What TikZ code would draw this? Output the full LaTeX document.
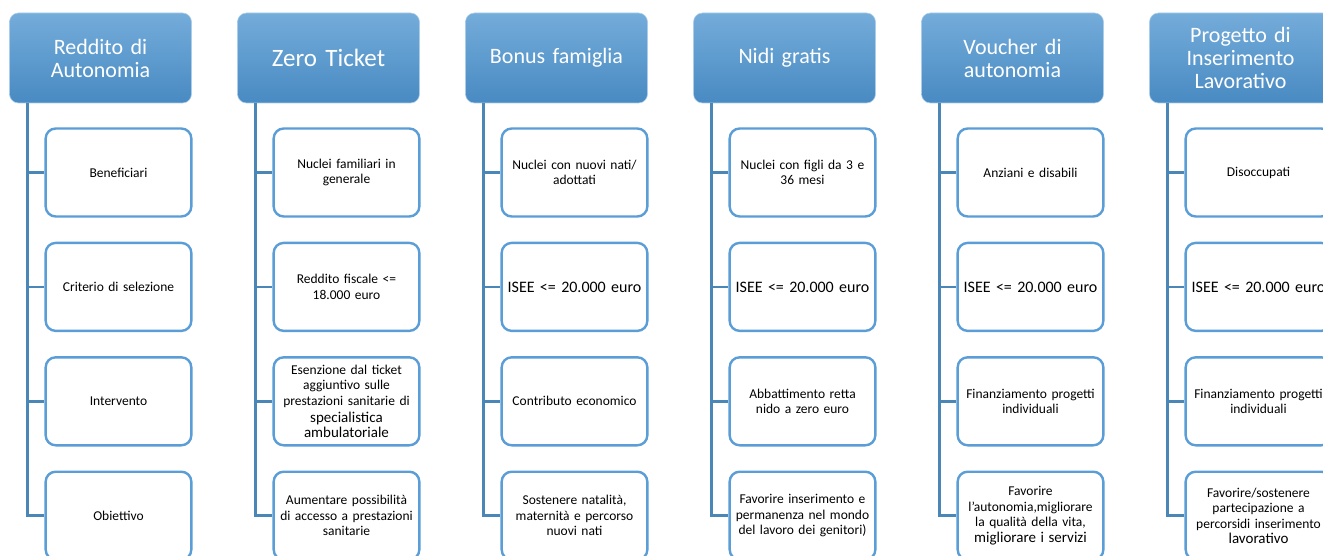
\documentclass[tikz,border=0pt]{standalone}
\usepackage{fontspec}
\setmainfont{Carlito}
\usepackage{tikz}
\usetikzlibrary{positioning}
\definecolor{headtop}{RGB}{116,172,218}
\definecolor{headbot}{RGB}{72,138,194}
\definecolor{subblue}{RGB}{91,157,214}
\definecolor{linkblue}{RGB}{74,134,182}
\tikzstyle{head} = [rectangle, rounded corners=9pt, top color=headtop,
    bottom color=headbot, draw=headtop!60!white, line width=0.6pt,
    minimum width=182pt, minimum height=90pt, text width=174pt,
    align=center, text=white, font=\fontsize{22}{23}\selectfont]
\tikzstyle{sub} = [rectangle, draw=subblue, line width=2.4pt, fill=white,
    rounded corners=10pt, minimum width=145.5pt, minimum height=88pt,
    text width=139pt, align=center, font=\fontsize{13.5}{15.5}\selectfont]
\tikzstyle{isee} = [sub, font=\fontsize{16}{18}\selectfont]
\tikzstyle{line} = [draw=linkblue, line width=2.6pt]

\begin{document}
\begin{tikzpicture}[x=1pt, y=1pt, node distance = 24pt]
  \useasboundingbox (0,0) rectangle (1323,-556);
  \clip (0,0) rectangle (1323,-556);
  % Place nodes
  \node [head] (red) at (100.5,-58) {Reddito di\\Autonomia};
  \node [head, right=45.4pt of red, font=\fontsize{25}{27}\selectfont] (zero) {Zero Ticket};
  \node [head, right=45.4pt of zero] (bonus) {Bonus famiglia};
  \node [head, right=45.4pt of bonus] (nidi) {Nidi gratis};
  \node [head, right=45.4pt of nidi] (vouch) {Voucher di\\autonomia};
  \node [head, right=45.4pt of vouch] (prog) {Progetto di\\Inserimento\\Lavorativo};

  \node [sub, below=of red, xshift=18pt] (red1) {Beneficiari};
  \node [sub, below=of red1] (red2) {Criterio di selezione};
  \node [sub, below=of red2] (red3) {Intervento};
  \node [sub, below=of red3] (red4) {Obiettivo};

  \node [sub, below=of zero, xshift=18pt] (zero1) {Nuclei familiari in\\generale};
  \node [sub, below=of zero1] (zero2) {Reddito fiscale <=\\18.000 euro};
  \node [sub, below=of zero2] (zero3) {Esenzione dal ticket\\aggiuntivo sulle\\prestazioni sanitarie di\\{\fontsize{15}{17}\selectfont specialistica\\ambulatoriale}};
  \node [sub, below=of zero3] (zero4) {Aumentare possibilità\\di accesso a prestazioni\\sanitarie};

  \node [sub, below=of bonus, xshift=18pt] (bonus1) {Nuclei con nuovi nati/\\adottati};
  \node [isee, below=of bonus1] (bonus2) {ISEE <= 20.000 euro};
  \node [sub, below=of bonus2] (bonus3) {Contributo economico};
  \node [sub, below=of bonus3] (bonus4) {Sostenere natalità,\\maternità e percorso\\nuovi nati};

  \node [sub, below=of nidi, xshift=18pt] (nidi1) {Nuclei con figli da 3 e\\36 mesi};
  \node [isee, below=of nidi1] (nidi2) {ISEE <= 20.000 euro};
  \node [sub, below=of nidi2] (nidi3) {Abbattimento retta\\nido a zero euro};
  \node [sub, below=of nidi3] (nidi4) {Favorire inserimento e\\permanenza nel mondo\\del lavoro dei genitori)};

  \node [sub, below=of vouch, xshift=18pt] (vouch1) {Anziani e disabili};
  \node [isee, below=of vouch1] (vouch2) {ISEE <= 20.000 euro};
  \node [sub, below=of vouch2] (vouch3) {Finanziamento progetti\\individuali};
  \node [sub, below=of vouch3] (vouch4) {Favorire\\l'autonomia,migliorare\\la qualità della vita,\\{\fontsize{15}{17}\selectfont migliorare i servizi}};

  \node [sub, below=of prog, xshift=18pt] (prog1) {Disoccupati};
  \node [isee, below=of prog1] (prog2) {ISEE <= 20.000 euro};
  \node [sub, below=of prog2] (prog3) {Finanziamento progetti\\individuali};
  \node [sub, below=of prog3] (prog4) {Favorire/sostenere\\partecipazione a\\percorsidi inserimento\\{\fontsize{15}{17}\selectfont lavorativo}};
  % Draw edges
  \path [line] ([xshift=18pt]red.south west) |- (red1.west);
  \path [line] ([xshift=18pt]red.south west) |- (red2.west);
  \path [line] ([xshift=18pt]red.south west) |- (red3.west);
  \path [line] ([xshift=18pt]red.south west) |- (red4.west);
  \path [line] ([xshift=18pt]zero.south west) |- (zero1.west);
  \path [line] ([xshift=18pt]zero.south west) |- (zero2.west);
  \path [line] ([xshift=18pt]zero.south west) |- (zero3.west);
  \path [line] ([xshift=18pt]zero.south west) |- (zero4.west);
  \path [line] ([xshift=18pt]bonus.south west) |- (bonus1.west);
  \path [line] ([xshift=18pt]bonus.south west) |- (bonus2.west);
  \path [line] ([xshift=18pt]bonus.south west) |- (bonus3.west);
  \path [line] ([xshift=18pt]bonus.south west) |- (bonus4.west);
  \path [line] ([xshift=18pt]nidi.south west) |- (nidi1.west);
  \path [line] ([xshift=18pt]nidi.south west) |- (nidi2.west);
  \path [line] ([xshift=18pt]nidi.south west) |- (nidi3.west);
  \path [line] ([xshift=18pt]nidi.south west) |- (nidi4.west);
  \path [line] ([xshift=18pt]vouch.south west) |- (vouch1.west);
  \path [line] ([xshift=18pt]vouch.south west) |- (vouch2.west);
  \path [line] ([xshift=18pt]vouch.south west) |- (vouch3.west);
  \path [line] ([xshift=18pt]vouch.south west) |- (vouch4.west);
  \path [line] ([xshift=18pt]prog.south west) |- (prog1.west);
  \path [line] ([xshift=18pt]prog.south west) |- (prog2.west);
  \path [line] ([xshift=18pt]prog.south west) |- (prog3.west);
  \path [line] ([xshift=18pt]prog.south west) |- (prog4.west);
\end{tikzpicture}
\end{document}
